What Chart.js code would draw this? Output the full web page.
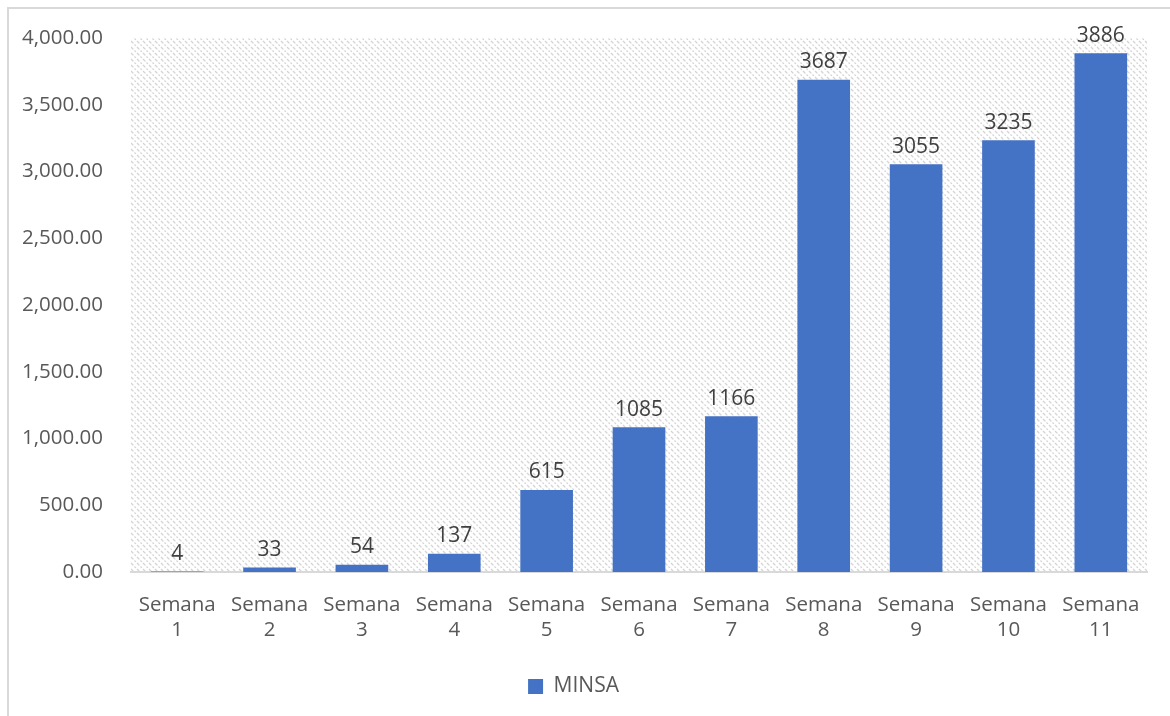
<!DOCTYPE html>
<html>
<head>
<meta charset="utf-8">
<script src="https://cdn.jsdelivr.net/npm/chart.js@4.4.1/dist/chart.umd.min.js"></script>
<style>
  html, body { margin: 0; padding: 0; background: #fff; }
  #wrap { width: 1170px; height: 716px; position: relative; }
</style>
</head>
<body>
<div id="wrap"><canvas id="minsa-chart"></canvas></div>
<script>
const semanas = ['1', '2', '3', '4', '5', '6', '7', '8', '9', '10', '11'];
const casosMinsa = [4, 33, 54, 137, 615, 1085, 1166, 3687, 3055, 3235, 3886];
const serieNombre = 'MINSA';

const labels = semanas.map(s => ['Semana', s]);
const fontFam = '"Open Sans", sans-serif';

function makePattern() {
    const p = document.createElement('canvas');
    p.width = 6;
    p.height = 6;
    const c = p.getContext('2d');
    c.fillStyle = '#ffffff';
    c.fillRect(0, 0, 6, 6);
    c.strokeStyle = '#d4d4d4';
    c.lineWidth = 1.3;
    c.setLineDash([2, 1.5]);
    c.beginPath();
    c.moveTo(0, 0); c.lineTo(6, 6);
    c.moveTo(-3, 3); c.lineTo(3, 9);
    c.moveTo(3, -3); c.lineTo(9, 3);
    c.stroke();
    return c.createPattern(p, 'repeat');
}

// hatched plot area + outer frame
const backdrop = {
    id: 'backdrop',
    beforeDraw(chart) {
        const { ctx, chartArea } = chart;
        ctx.save();
        ctx.strokeStyle = '#d9d9d9';
        ctx.lineWidth = 2;
        ctx.beginPath();
        ctx.moveTo(8, chart.height);
        ctx.lineTo(8, 8);
        ctx.lineTo(chart.width, 8);
        ctx.stroke();
        ctx.fillStyle = makePattern();
        ctx.fillRect(chartArea.left, chartArea.top, chartArea.right - chartArea.left, chartArea.bottom - chartArea.top);
        ctx.restore();
    }
};

const valueLabels = {
    id: 'valueLabels',
    afterDatasetsDraw(chart) {
        const { ctx } = chart;
        const meta = chart.getDatasetMeta(0);
        ctx.save();
        ctx.font = '21px ' + fontFam;
        ctx.fillStyle = '#404040';
        ctx.textAlign = 'center';
        ctx.textBaseline = 'bottom';
        meta.data.forEach((bar, i) => {
            ctx.fillText(String(casosMinsa[i]), bar.x, bar.y - 7);
        });
        ctx.restore();
    }
};

new Chart(document.getElementById('minsa-chart'), {
    type: 'bar',
    data: {
        labels: labels,
        datasets: [{
            label: serieNombre,
            data: casosMinsa,
            backgroundColor: '#4472C4',
            barPercentage: 0.57,
            categoryPercentage: 1.0
        }]
    },
    options: {
        responsive: true,
        maintainAspectRatio: false,
        animation: false,
        layout: { padding: { top: 38, right: 23, bottom: 9, left: 0 } },
        scales: {
            x: {
                grid: { display: false },
                border: { display: true, color: '#d9d9d9', width: 2 },
                ticks: {
                    color: '#595959',
                    font: { family: fontFam, size: 20.5, lineHeight: 1.25 },
                    padding: 12,
                    maxRotation: 0,
                    autoSkip: false
                },
                afterFit(scale) { scale.height = 94; }
            },
            y: {
                min: 0,
                max: 4000,
                grid: { display: false },
                border: { display: false },
                ticks: {
                    stepSize: 500,
                    color: '#595959',
                    font: { family: fontFam, size: 20.5 },
                    padding: 20,
                    callback: v => v.toLocaleString('en-US', { minimumFractionDigits: 2, maximumFractionDigits: 2 })
                },
                afterFit(scale) { scale.width = 131; }
            }
        },
        plugins: {
            legend: {
                position: 'bottom',
                labels: {
                    color: '#595959',
                    font: { family: fontFam, size: 21 },
                    boxWidth: 15,
                    boxHeight: 15,
                    padding: 10
                }
            },
            tooltip: { enabled: false }
        }
    },
    plugins: [backdrop, valueLabels]
});
</script>
</body>
</html>
